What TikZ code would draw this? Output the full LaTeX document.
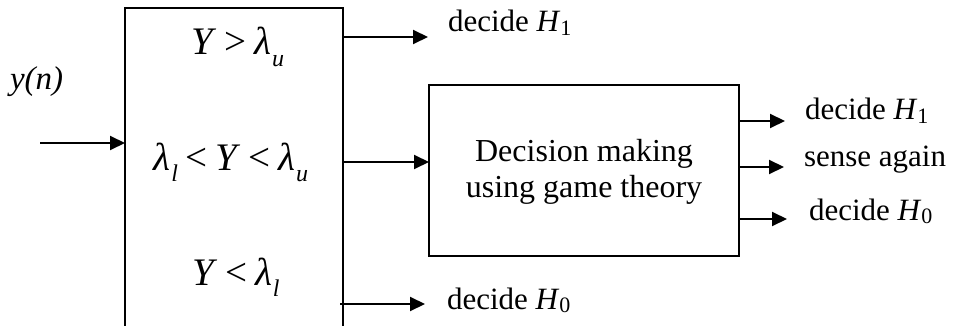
\documentclass[tikz,border=0pt]{standalone}
\usepackage{fontspec}
\setmainfont{Liberation Serif}
\usetikzlibrary{arrows.meta}
\newcommand{\lsub}[1]{\kern0.02em\raisebox{-0.3em}{\fontsize{24}{24}\selectfont\itshape #1}}
\newcommand{\hsub}[1]{\raisebox{-0.1em}{\fontsize{22}{22}\selectfont #1}}
\newcommand{\rel}[1]{\kern0.2em#1\kern0.2em}
\begin{document}
\begin{tikzpicture}[x=1pt,y=-1pt,
  every node/.style={inner sep=0pt,outer sep=0pt},
  blk/.style={draw,line width=1.8pt},
  arr/.style={line width=2pt,-{Triangle[length=15pt,width=14pt]}},
  txt/.style={font=\fontsize{31}{36}\selectfont,anchor=base west},
  mth/.style={font=\fontsize{39}{44}\selectfont,anchor=base}]
\useasboundingbox (0,0) rectangle (953,326);
\clip (0,0) rectangle (953,326);
% left box (bottom runs off the picture)
\node[blk,anchor=north west,minimum width=218pt,minimum height=340pt] (lb) at (125,8) {};
% right box
\node[blk,anchor=north west,minimum width=310pt,minimum height=171pt] (gb) at (429,85) {};
% texts inside left box
\node[mth] (m1) at (238,55) {\textit{Y}\rel{>}\textit{λ}\lsub{u}};
\node[mth] (m2) at (231,170) {\textit{λ}\lsub{l}\rel{<}\textit{Y}\rel{<}\textit{λ}\lsub{u}};
\node[mth] (m3) at (236,285) {\textit{Y}\rel{<}\textit{λ}\lsub{l}};
% input label
\node[font=\fontsize{33}{36}\selectfont,anchor=base west] (yn) at (10,90) {\textit{y(n)}};
% game box text
\node[font=\fontsize{32}{36}\selectfont,align=center,anchor=center] (gt) at (584,172) {Decision making\\using game theory};
% output labels
\node[txt] (o1) at (448,32) {decide \textit{H}\hsub{1}};
\node[txt] (o0) at (447,309) {decide \textit{H}\hsub{0}};
\node[txt] (r1) at (805,120) {decide \textit{H}\hsub{1}};
\node[txt] (rs) at (804,167) {sense again};
\node[txt] (r0) at (809,220) {decide \textit{H}\hsub{0}};
% connector end points
\coordinate (in) at (40,143);
\coordinate (t1) at (428,37);
\coordinate (t0) at (425,304);
\coordinate (s1) at (785,121);
\coordinate (ss) at (784,167);
\coordinate (s0) at (787,219);
% connectors
\draw[arr] (in) -- (lb.west |- in);
\draw[arr] (lb.east |- t1) -- (t1);
\draw[arr] (lb.east |- 0,162) -- (gb.west |- 0,162);
\draw[arr] ([xshift=-3pt]lb.east |- t0) -- (t0);
\draw[arr] (gb.east |- s1) -- (s1);
\draw[arr] (gb.east |- ss) -- (ss);
\draw[arr] (gb.east |- s0) -- (s0);
\end{tikzpicture}
\end{document}
